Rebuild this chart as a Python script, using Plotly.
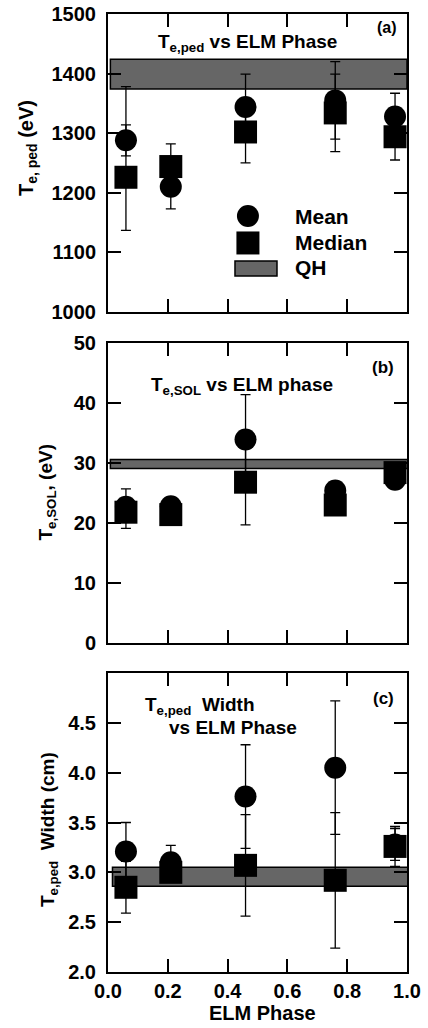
import plotly.graph_objects as go

# ---------------- data ----------------
phase = [0.06, 0.21, 0.46, 0.76, 0.96]

a_mean = [1288, 1210, 1344, 1355, 1328]
a_mean_up = [26, 37, 55, 65, 39]
a_mean_dn = [26, 37, 55, 65, 39]
a_med = [1226, 1244, 1302, 1334, 1294]
a_med_up = [152, 38, 52, 65, 39]
a_med_dn = [89, 38, 52, 65, 39]
a_qh = [1374, 1424]

b_mean = [22.7, 22.8, 33.9, 25.4, 27.2]
b_mean_up = [3.0, 0.8, 7.5, 0.8, 0.8]
b_mean_dn = [1.5, 0.8, 7.5, 0.8, 0.8]
b_med = [21.8, 21.4, 26.8, 23.0, 28.4]
b_med_up = [1.0, 0.8, 7.1, 0.8, 0.8]
b_med_dn = [2.7, 0.8, 7.1, 0.8, 0.8]
b_qh = [29.1, 30.6]

c_mean = [3.21, 3.10, 3.76, 4.05, 3.28]
c_mean_err = [0.29, 0.17, 0.52, 0.67, 0.16]
c_med = [2.85, 3.00, 3.07, 2.92, 3.26]
c_med_err = [0.26, 0.10, 0.51, 0.68, 0.20]
c_qh = [2.86, 3.05]

x_ticks = [0.0, 0.2, 0.4, 0.6, 0.8, 1.0]
x_ticklabels = ["0.0", "0.2", "0.4", "0.6", "0.8", "1.0"]
a_yticks = [1000, 1100, 1200, 1300, 1400, 1500]
b_yticks = [0, 10, 20, 30, 40, 50]
c_yticks = [2.0, 2.5, 3.0, 3.5, 4.0, 4.5]
c_yticklabels = ["2.0", "2.5", "3.0", "3.5", "4.0", "4.5"]

FONT = "Liberation Sans, Arial, Helvetica, sans-serif"

fig = go.Figure()

def add_pair(xa, ya, mean, mup, mdn, med, dup, ddn):
    err = dict(type="data", symmetric=False, color="black", thickness=1.3, width=5)
    fig.add_trace(go.Scatter(
        x=phase, y=med, mode="markers", xaxis=xa, yaxis=ya,
        marker=dict(symbol="square", size=23, color="black", line=dict(width=0)),
        error_y=dict(array=dup, arrayminus=ddn, **err),
        cliponaxis=False, showlegend=False))
    fig.add_trace(go.Scatter(
        x=phase, y=mean, mode="markers", xaxis=xa, yaxis=ya,
        marker=dict(symbol="circle", size=22, color="black", line=dict(width=0)),
        error_y=dict(array=mup, arrayminus=mdn, **err),
        cliponaxis=False, showlegend=False))

add_pair("x", "y", a_mean, a_mean_up, a_mean_dn, a_med, a_med_up, a_med_dn)
add_pair("x2", "y2", b_mean, b_mean_up, b_mean_dn, b_med, b_med_up, b_med_dn)
add_pair("x3", "y3", c_mean, c_mean_err, c_mean_err, c_med, c_med_err, c_med_err)

# QH bands
shapes = []
for (xr, yr, qh, x0, x1) in [("x", "y", a_qh, 0.008, 1.0),
                              ("x2", "y2", b_qh, 0.008, 1.005),
                              ("x3", "y3", c_qh, 0.015, 1.01)]:
    shapes.append(dict(type="rect", xref=xr, yref=yr, x0=x0, x1=x1, y0=qh[0], y1=qh[1],
                       fillcolor="#666666", line=dict(color="black", width=1.5), layer="below"))

# legend symbols in panel (a)
shapes.append(dict(type="circle", xref="x domain", yref="y domain",
                   x0=0.468 - 0.0368, x1=0.468 + 0.0368, y0=0.322 - 0.0369, y1=0.322 + 0.0369,
                   fillcolor="black", line=dict(width=0)))
shapes.append(dict(type="rect", xref="x domain", yref="y domain",
                   x0=0.468 - 0.0385, x1=0.468 + 0.0385, y0=0.2315 - 0.0386, y1=0.2315 + 0.0386,
                   fillcolor="black", line=dict(width=0)))
shapes.append(dict(type="rect", xref="x domain", yref="y domain",
                   x0=0.4247, x1=0.5652, y0=0.1208, y1=0.1711,
                   fillcolor="#666666", line=dict(color="black", width=1.5)))

ann = []
def txt(text, x, y, xref, yref, size, xanchor="center", yanchor="middle", angle=0):
    ann.append(dict(text=text, x=x, y=y, xref=xref, yref=yref, showarrow=False,
                    xanchor=xanchor, yanchor=yanchor, textangle=angle,
                    font=dict(family=FONT, size=size, color="black", weight="bold")))

# legend texts
txt("Mean", 0.619, 0.322, "x domain", "y domain", 21, xanchor="left")
txt("Median", 0.619, 0.2315, "x domain", "y domain", 21, xanchor="left")
txt("QH", 0.619, 0.1477, "x domain", "y domain", 21, xanchor="left")

# in-panel titles
txt("T<sub>e,ped</sub> vs ELM Phase", 0.468, 0.9695, "paper", "paper", 19)
txt("(a)", 0.933, 0.9854, "paper", "paper", 16)
txt("T<sub>e,SOL</sub> vs ELM phase", 0.448, 0.6117, "paper", "paper", 19)
txt("(b)", 0.92, 0.6305, "paper", "paper", 17)
txt("T<sub>e,ped</sub>  Width", 0.117, 0.2775, "paper", "paper", 19, xanchor="left")
txt("vs ELM Phase", 0.197, 0.2547, "paper", "paper", 19, xanchor="left")
txt("(c)", 0.92, 0.286, "paper", "paper", 17)

# axis titles
txt("T<sub>e, ped</sub> (eV)", -0.271, 0.860, "paper", "paper", 20, angle=-90)
txt("T<sub>e,SOL</sub>, (eV)", -0.204, 0.5005, "paper", "paper", 19, angle=-90)
txt("T<sub>e,ped</sub>  Width (cm)", -0.197, 0.1482, "paper", "paper", 19, angle=-90)
txt("ELM Phase", 0.517, -0.0428, "paper", "paper", 20)

tickfont = dict(family=FONT, size=20, color="black", weight="bold")
common_x = dict(range=[0, 1], tickvals=x_ticks, ticktext=x_ticklabels, ticks="inside",
                ticklen=13, tickwidth=2, tickcolor="black", showline=True, linewidth=2,
                linecolor="black", mirror="ticks", showgrid=False, zeroline=False,
                tickfont=tickfont, automargin=False)
common_y = dict(ticks="inside", ticklen=13, tickwidth=2, tickcolor="black", showline=True,
                linewidth=2, linecolor="black", mirror="ticks", showgrid=False, zeroline=False,
                tickfont=tickfont, ticklabelstandoff=6, automargin=False)

fig.update_layout(
    width=428, height=1028,
    margin=dict(l=108, r=21, t=14, b=56),
    paper_bgcolor="white", plot_bgcolor="white",
    font=dict(family=FONT, color="black"),
    showlegend=False,
    xaxis=dict(domain=[0, 1], anchor="y", showticklabels=False, **common_x),
    xaxis2=dict(domain=[0, 1], anchor="y2", showticklabels=False, **common_x),
    xaxis3=dict(domain=[0, 1], anchor="y3", showticklabels=True, **common_x),
    yaxis=dict(domain=[0.689, 1.0], anchor="x", range=[1000, 1500], tickvals=a_yticks, **common_y),
    yaxis2=dict(domain=[0.3434, 0.6566], anchor="x2", range=[0, 50], tickvals=b_yticks, **common_y),
    yaxis3=dict(domain=[0.0, 0.3121], anchor="x3", range=[2.0, 5.0], tickvals=c_yticks,
                ticktext=c_yticklabels, **common_y),
    shapes=shapes,
    annotations=ann,
)

fig.write_html("out.html",
               config={"displayModeBar": False},
               post_script="document.body.style.margin='0px';document.body.style.overflow='hidden';")
